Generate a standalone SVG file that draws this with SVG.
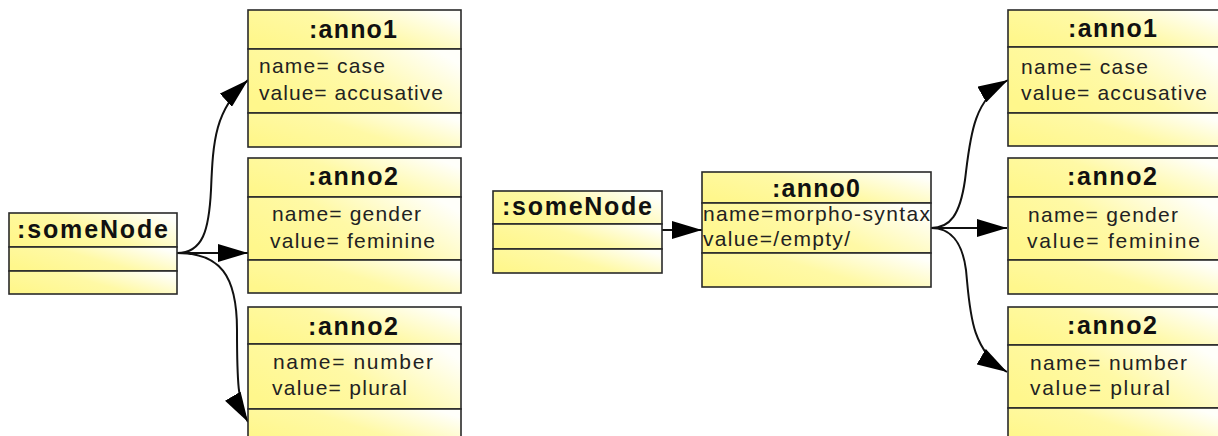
<svg xmlns="http://www.w3.org/2000/svg" width="1218" height="436" viewBox="0 0 1218 436">
<style>
.box rect{fill:url(#yg);stroke:#2a2a2a;stroke-width:1.6}
.t{font-family:"Liberation Sans",Arial,sans-serif;font-size:25px;font-weight:bold;fill:#111}
.a{font-family:"Liberation Sans",Arial,sans-serif;font-size:21px;fill:#222}
.c path{fill:none;stroke:#111;stroke-width:2;marker-end:url(#ah)}
</style>
<defs>
<linearGradient id="yg" x1="0" y1="0.75" x2="1" y2="0.25">
<stop offset="0" stop-color="#FFF78C"/>
<stop offset="0.5" stop-color="#FFF9A6"/>
<stop offset="1" stop-color="#FFFFFA"/>
</linearGradient>
<marker id="ah" markerUnits="userSpaceOnUse" markerWidth="30" markerHeight="18" refX="30" refY="9" orient="auto">
<path d="M0,0 L30,9 L0,18 z" fill="#000"/>
</marker>
</defs>
<rect width="1218" height="436" fill="#fff"/>

<g id="connectors" class="c">
<path d="M177,253 C203,253 209,230 211,190 C213,140 215,110 248,80"/>
<path d="M177,253 L248,253"/>
<path d="M177,253 C220,253 237,275 237,330 C237,380 238,405 248,422"/>
<path d="M662,230 L702,230"/>
<path d="M931,228 C950,228 960,215 965,180 C970,140 972,100 1008,80"/>
<path d="M931,228 L1007,228"/>
<path d="M931,228 C950,228 962,240 966,270 C970,310 970,350 1007,372"/>
</g>

<g id="someNode-left" class="box">
<rect x="9" y="213" width="168" height="34"/>
<rect x="9" y="247" width="168" height="24"/>
<rect x="9" y="271" width="168" height="23"/>
<text class="t" x="17" y="238" textLength="151" lengthAdjust="spacing">:someNode</text>
</g>

<g id="anno1-left" class="box">
<rect x="248" y="10" width="213" height="39"/>
<rect x="248" y="49" width="213" height="64"/>
<rect x="248" y="113" width="213" height="34"/>
<text class="t" x="309" y="38" textLength="88" lengthAdjust="spacing">:anno1</text>
<text class="a" x="259" y="73" textLength="126" lengthAdjust="spacing">name= case</text>
<text class="a" x="259" y="100" textLength="184" lengthAdjust="spacing">value= accusative</text>
</g>

<g id="anno2-gender-left" class="box">
<rect x="248" y="158" width="213" height="39"/>
<rect x="248" y="197" width="213" height="63"/>
<rect x="248" y="260" width="213" height="33"/>
<text class="t" x="308" y="185" textLength="90" lengthAdjust="spacing">:anno2</text>
<text class="a" x="272" y="221" textLength="149" lengthAdjust="spacing">name= gender</text>
<text class="a" x="270" y="248" textLength="165" lengthAdjust="spacing">value= feminine</text>
</g>

<g id="anno2-number-left" class="box">
<rect x="248" y="307" width="213" height="37"/>
<rect x="248" y="344" width="213" height="65"/>
<rect x="248" y="409" width="213" height="34"/>
<text class="t" x="308" y="335" textLength="90" lengthAdjust="spacing">:anno2</text>
<text class="a" x="273" y="369" textLength="160" lengthAdjust="spacing">name= number</text>
<text class="a" x="272" y="395" textLength="135" lengthAdjust="spacing">value= plural</text>
</g>

<g id="someNode-right" class="box">
<rect x="493" y="191" width="169" height="33"/>
<rect x="493" y="224" width="169" height="25"/>
<rect x="493" y="249" width="169" height="24"/>
<text class="t" x="502" y="215" textLength="150" lengthAdjust="spacing">:someNode</text>
</g>

<g id="anno0" class="box">
<rect x="702" y="172" width="229" height="31"/>
<rect x="702" y="203" width="229" height="50"/>
<rect x="702" y="253" width="229" height="34"/>
<text class="t" x="772" y="197" textLength="88" lengthAdjust="spacing">:anno0</text>
<text class="a" x="703" y="221" textLength="227" lengthAdjust="spacing">name=morpho-syntax</text>
<text class="a" x="703" y="246" textLength="147" lengthAdjust="spacing">value=/empty/</text>
</g>

<g id="anno1-right" class="box">
<rect x="1008" y="10" width="213" height="37"/>
<rect x="1008" y="47" width="213" height="66"/>
<rect x="1008" y="113" width="213" height="33"/>
<text class="t" x="1068" y="37" textLength="89" lengthAdjust="spacing">:anno1</text>
<text class="a" x="1021" y="74" textLength="127" lengthAdjust="spacing">name= case</text>
<text class="a" x="1021" y="100" textLength="186" lengthAdjust="spacing">value= accusative</text>
</g>

<g id="anno2-gender-right" class="box">
<rect x="1008" y="158" width="213" height="39"/>
<rect x="1008" y="197" width="213" height="63"/>
<rect x="1008" y="260" width="213" height="34"/>
<text class="t" x="1067" y="185" textLength="90" lengthAdjust="spacing">:anno2</text>
<text class="a" x="1028" y="222" textLength="150" lengthAdjust="spacing">name= gender</text>
<text class="a" x="1027" y="248" textLength="173" lengthAdjust="spacing">value= feminine</text>
</g>

<g id="anno2-number-right" class="box">
<rect x="1008" y="307" width="213" height="38"/>
<rect x="1008" y="345" width="213" height="63"/>
<rect x="1008" y="408" width="213" height="35"/>
<text class="t" x="1067" y="334" textLength="90" lengthAdjust="spacing">:anno2</text>
<text class="a" x="1030" y="370" textLength="157" lengthAdjust="spacing">name= number</text>
<text class="a" x="1030" y="395" textLength="140" lengthAdjust="spacing">value= plural</text>
</g>
</svg>
